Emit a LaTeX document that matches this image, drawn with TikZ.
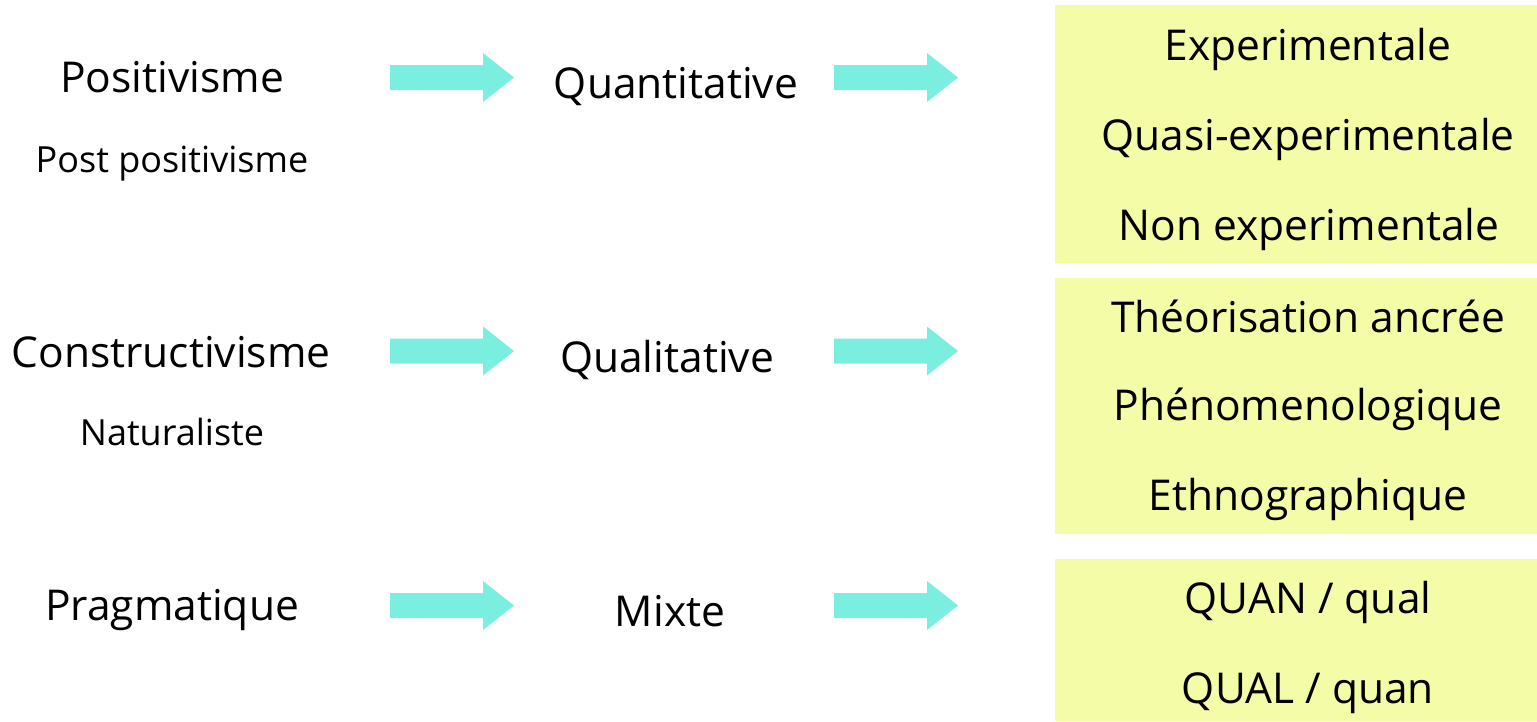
\documentclass[tikz,border=0pt]{standalone}
\usepackage{fontspec}
\setmainfont{Open Sans}
\definecolor{arrowcol}{HTML}{7AEFE0}
\definecolor{boxcol}{HTML}{F4FCA8}
\tikzset{
  big/.style={anchor=base, inner sep=0pt, font=\fontsize{42.5}{50}\selectfont},
  small/.style={anchor=base, inner sep=0pt, font=\fontsize{36}{43}\selectfont},
  boxfill/.style={fill=boxcol, draw=none},
  blockarrow/.style={fill=arrowcol, draw=none}
}
\newcommand{\myarrow}[3]{% name, x, y (centre)
  \coordinate (#1) at (#2,#3);
  \fill[blockarrow] ([shift={(0,-12.5)}]#1) -- ++(93,0) -- ++(0,-12) -- ([shift={(124,0)}]#1)
     -- ([shift={(93,24.5)}]#1) -- ++(0,-12) -- ([shift={(0,12.5)}]#1) -- cycle;
}
\begin{document}
\begin{tikzpicture}[x=1pt,y=-1pt]
\useasboundingbox (0,0) rectangle (1537,721);
% boxes
\fill[boxfill] (1055,5) rectangle (1537,263);
\fill[boxfill] (1055,278) rectangle (1537,534);
\fill[boxfill] (1055,559) rectangle (1537,721);
% arrows
\myarrow{a1}{390}{77.5}
\myarrow{a2}{834}{77.5}
\myarrow{a3}{390}{351}
\myarrow{a4}{834}{351}
\myarrow{a5}{390}{605.5}
\myarrow{a6}{834}{605.5}
% left column
\node[big] (pos) at (172,92) {Positivisme};
\node[small] (postpos) at (172,172) {Post positivisme};
\node[big] (cons) at (171,367) {Constructivisme};
\node[small] (nat) at (172,445) {Naturaliste};
\node[big] (prag) at (172,620) {Pragmatique};
% middle column
\node[big] (quant) at (676,98) {Quantitative};
\node[big] (qual) at (667,372) {Qualitative};
\node[big] (mixte) at (670,626) {Mixte};
% right column
\node[big] (exp) at (1308,60) {Experimentale};
\node[big] (quasi) at (1308,150) {Quasi-experimentale};
\node[big] (nonexp) at (1309,240) {Non experimentale};
\node[big] (theo) at (1308,332) {Théorisation ancrée};
\node[big] (pheno) at (1308,420) {Phénomenologique};
\node[big] (ethno) at (1308,510) {Ethnographique};
\node[big] (quanqual) at (1308,613) {QUAN / qual};
\node[big] (qualquan) at (1308,703) {QUAL / quan};
\end{tikzpicture}
\end{document}
